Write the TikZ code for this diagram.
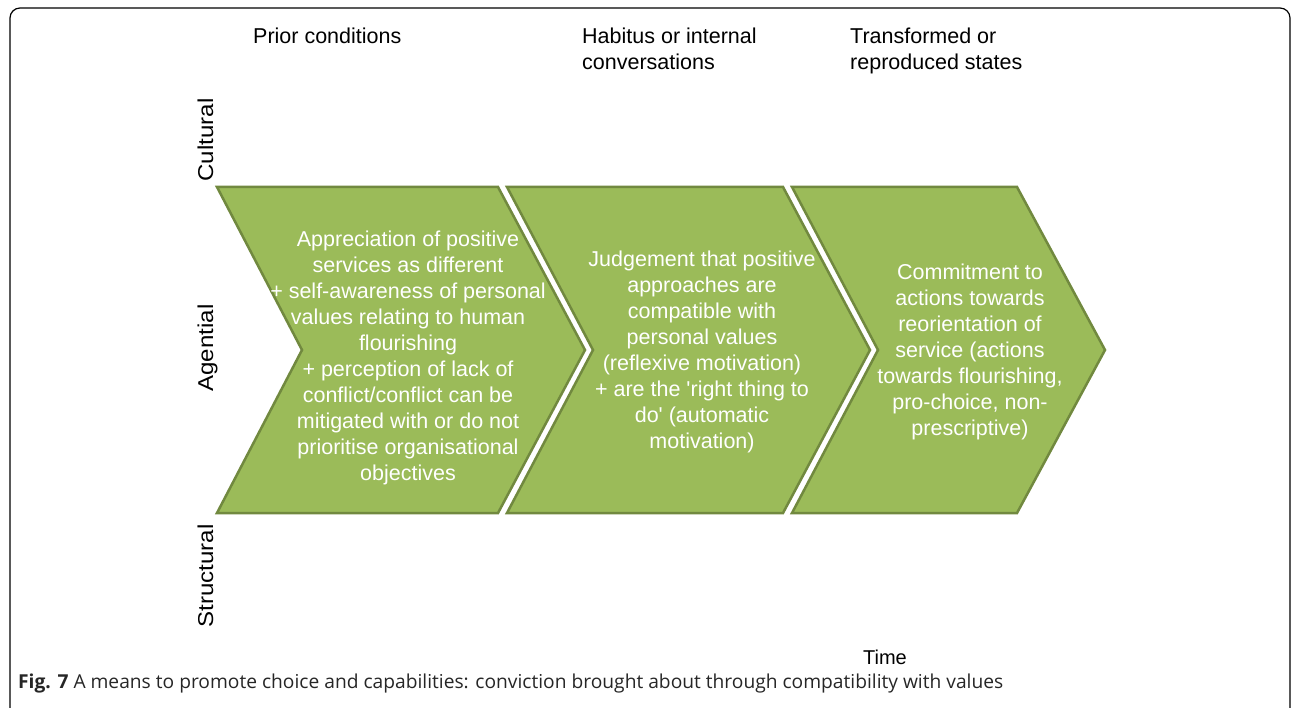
\documentclass[tikz,border=0pt]{standalone}
\usepackage{fontspec}
\setmainfont{Liberation Sans}
\newfontfamily\capfont{Open Sans}
\usetikzlibrary{positioning}
\definecolor{chevfill}{HTML}{9BBB59}
\definecolor{chevline}{HTML}{71893F}
\tikzset{chev/.style={fill=chevfill, draw=chevline, line width=2.5pt, line join=miter},
  chevtext/.style={text=white, align=center, inner sep=0pt, font=\fontsize{21.5}{26}\selectfont},
  head/.style={align=left, anchor=north west, inner sep=0pt, font=\fontsize{21.5}{26}\selectfont},
  side/.style={rotate=90, xscale=1.12, anchor=base, inner sep=0pt, font=\fontsize{21.5}{26}\selectfont}}

\begin{document}
\begin{tikzpicture}[x=1pt, y=-1pt]
    \useasboundingbox (0,0) rectangle (1292,708);
    \clip (0,0) rectangle (1292,708);
    \draw[line width=1.2pt, rounded corners=10pt] (10,8) rectangle (1290,718);
    % chevrons
    \draw[chev] (217,187) -- (498,187) -- (585,350) -- (498,513) -- (217,513) -- (302,350) -- cycle;
    \draw[chev] (507,187) -- (783,187) -- (870,350) -- (783,513) -- (507,513) -- (593,350) -- cycle;
    \draw[chev] (792,187) -- (1017,187) -- (1105,350) -- (1017,513) -- (792,513) -- (878,350) -- cycle;
    \node[chevtext] (prior) at (408,358) {Appreciation of positive\\services as different\\+ self-awareness of personal\\values relating to human\\flourishing\\+ perception of lack of\\conflict/conflict can be\\mitigated with or do not\\prioritise organisational\\objectives};
    \node[chevtext] (habitus) at (702,352) {Judgement that positive\\approaches are\\compatible with\\personal values\\(reflexive motivation)\\+ are the \textquotesingle right thing to\\do\textquotesingle{} (automatic\\motivation)};
    \node[chevtext] (states) at (970,352) {Commitment to\\actions towards\\reorientation of\\service (actions\\towards flourishing,\\pro-choice, non-\\prescriptive)};
    % headers
    \node[head] (hprior) at (253,28) {Prior conditions};
    \node[head] (hhabitus) at (582,28) {Habitus or internal\\conversations};
    \node[head] (hstates) at (850,28) {Transformed or\\reproduced states};
    \node[side] (cultural) at (213,140) {Cultural};
    \node[side] (agential) at (213,348) {Agential};
    \node[side] (structural) at (213,576) {Structural};
    \node[anchor=base, inner sep=0pt, font=\fontsize{20}{24}\selectfont] (time) at (885,664) {Time};
    \node[anchor=base west, inner sep=0pt, text=black!85, font=\capfont\fontsize{19.2}{22}\selectfont] (caption) at (18,688) {\textbf{Fig. 7} A means to promote choice and capabilities: conviction brought about through compatibility with values};
\end{tikzpicture}
\end{document}
